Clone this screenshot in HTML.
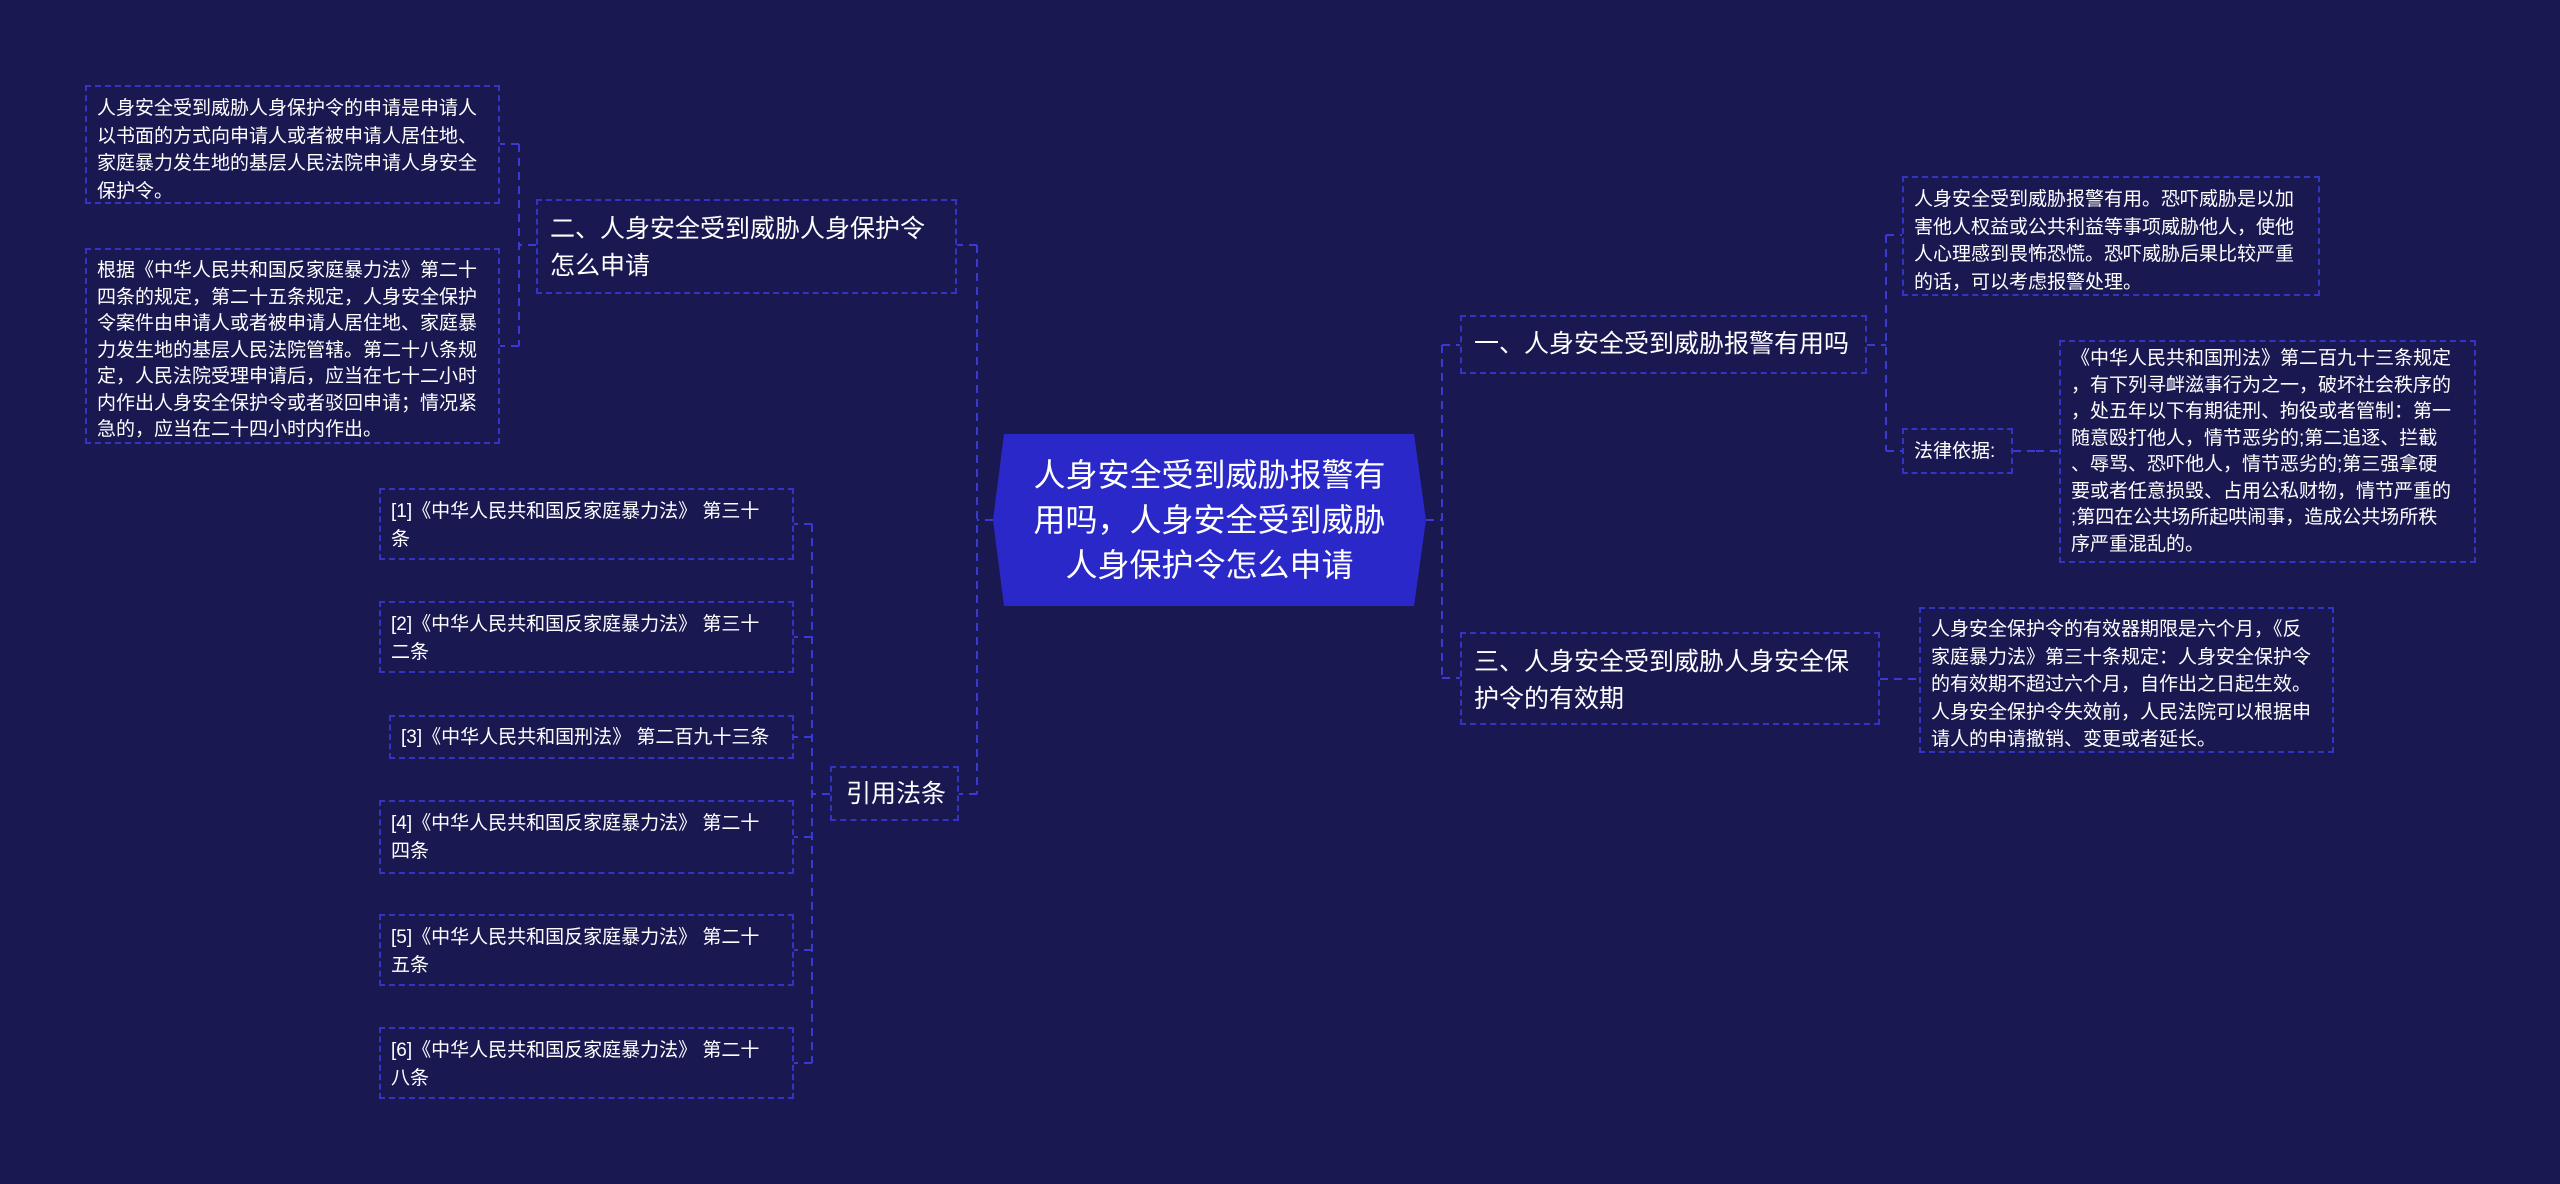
<!DOCTYPE html>
<html><head><meta charset="utf-8"><style>
html,body{margin:0;padding:0}
body{width:2560px;height:1184px;background:#1a1851;position:relative;overflow:hidden;font-family:"Liberation Sans","Noto Sans CJK SC",sans-serif;color:#fff}
.b{position:absolute;box-sizing:border-box;border:2px dashed #3434c4;white-space:nowrap}
.s{font-size:19px;line-height:27.5px;padding:8px 0 0 10px}
.t{line-height:26.5px}
.m{font-size:25px;line-height:37px;padding:10px 0 0 12px}
svg{position:absolute;left:0;top:0}
</style></head><body>
<svg width="2560" height="1184">
<g stroke="#3a3ad2" stroke-width="2" fill="none" stroke-dasharray="8,6">
<path d="M993 520H977M977 245V794M977 245H957M977 794H959"/>
<path d="M536 245H519M519 144V346M519 144H500M519 346H500"/>
<path d="M830 794H812M812 524V1063M812 524H794M812 637H794M812 737H794M812 837H794M812 950H794M812 1063H794"/>
<path d="M1426 520H1442M1442 345V678M1442 345H1460M1442 678H1460"/>
<path d="M1867 345H1886M1886 235V451M1886 235H1902M1886 451H1902"/>
<path d="M2013 451H2036M2036 451V451M2036 451H2059"/>
<path d="M1880 679H1919"/>
</g>
</svg>
<svg width="2560" height="1184"><polygon points="993,520 1004,434 1414,434 1426,520 1414,606 1004,606" fill="#2a28c8"/></svg>
<div style="position:absolute;left:993px;top:434px;width:433px;height:172px;display:flex;align-items:center;justify-content:center;text-align:center;font-size:32px;line-height:45px">人身安全受到威胁报警有<br>用吗，人身安全受到威胁<br>人身保护令怎么申请</div>

<div class="b s" style="left:85px;top:85px;width:415px;height:119px">人身安全受到威胁人身保护令的申请是申请人<br>以书面的方式向申请人或者被申请人居住地、<br>家庭暴力发生地的基层人民法院申请人身安全<br>保护令。</div>
<div class="b s t" style="left:85px;top:248px;width:415px;height:196px;padding-top:8px">根据《中华人民共和国反家庭暴力法》第二十<br>四条的规定，第二十五条规定，人身安全保护<br>令案件由申请人或者被申请人居住地、家庭暴<br>力发生地的基层人民法院管辖。第二十八条规<br>定，人民法院受理申请后，应当在七十二小时<br>内作出人身安全保护令或者驳回申请；情况紧<br>急的，应当在二十四小时内作出。</div>
<div class="b m" style="left:536px;top:199px;width:421px;height:95px">二、人身安全受到威胁人身保护令<br>怎么申请</div>
<div class="b m" style="left:830px;top:766px;width:129px;height:55px;padding-left:14px;padding-top:8px">引用法条</div>

<div class="b s" style="left:379px;top:488px;width:415px;height:72px">[1]《中华人民共和国反家庭暴力法》 第三十<br>条</div>
<div class="b s" style="left:379px;top:601px;width:415px;height:72px">[2]《中华人民共和国反家庭暴力法》 第三十<br>二条</div>
<div class="b s" style="left:389px;top:715px;width:405px;height:44px;padding-top:7px">[3]《中华人民共和国刑法》 第二百九十三条</div>
<div class="b s" style="left:379px;top:800px;width:415px;height:74px">[4]《中华人民共和国反家庭暴力法》 第二十<br>四条</div>
<div class="b s" style="left:379px;top:914px;width:415px;height:72px">[5]《中华人民共和国反家庭暴力法》 第二十<br>五条</div>
<div class="b s" style="left:379px;top:1027px;width:415px;height:72px">[6]《中华人民共和国反家庭暴力法》 第二十<br>八条</div>

<div class="b m" style="left:1460px;top:315px;width:407px;height:59px;padding-top:9px">一、人身安全受到威胁报警有用吗</div>
<div class="b s" style="left:1902px;top:176px;width:418px;height:120px">人身安全受到威胁报警有用。恐吓威胁是以加<br>害他人权益或公共利益等事项威胁他人，使他<br>人心理感到畏怖恐慌。恐吓威胁后果比较严重<br>的话，可以考虑报警处理。</div>
<div class="b s" style="left:1902px;top:428px;width:111px;height:46px;padding-top:8px">法律依据:</div>
<div class="b s t" style="left:2059px;top:340px;width:417px;height:223px;padding-top:4px">《中华人民共和国刑法》第二百九十三条规定<br>，有下列寻衅滋事行为之一，破坏社会秩序的<br>，处五年以下有期徒刑、拘役或者管制：第一<br>随意殴打他人，情节恶劣的;第二追逐、拦截<br>、辱骂、恐吓他人，情节恶劣的;第三强拿硬<br>要或者任意损毁、占用公私财物，情节严重的<br>;第四在公共场所起哄闹事，造成公共场所秩<br>序严重混乱的。</div>
<div class="b m" style="left:1460px;top:632px;width:420px;height:93px">三、人身安全受到威胁人身安全保<br>护令的有效期</div>
<div class="b s" style="left:1919px;top:607px;width:415px;height:146px;padding-top:7px">人身安全保护令的有效器期限是六个月，《反<br>家庭暴力法》第三十条规定：人身安全保护令<br>的有效期不超过六个月，自作出之日起生效。<br>人身安全保护令失效前，人民法院可以根据申<br>请人的申请撤销、变更或者延长。</div>
</body></html>
